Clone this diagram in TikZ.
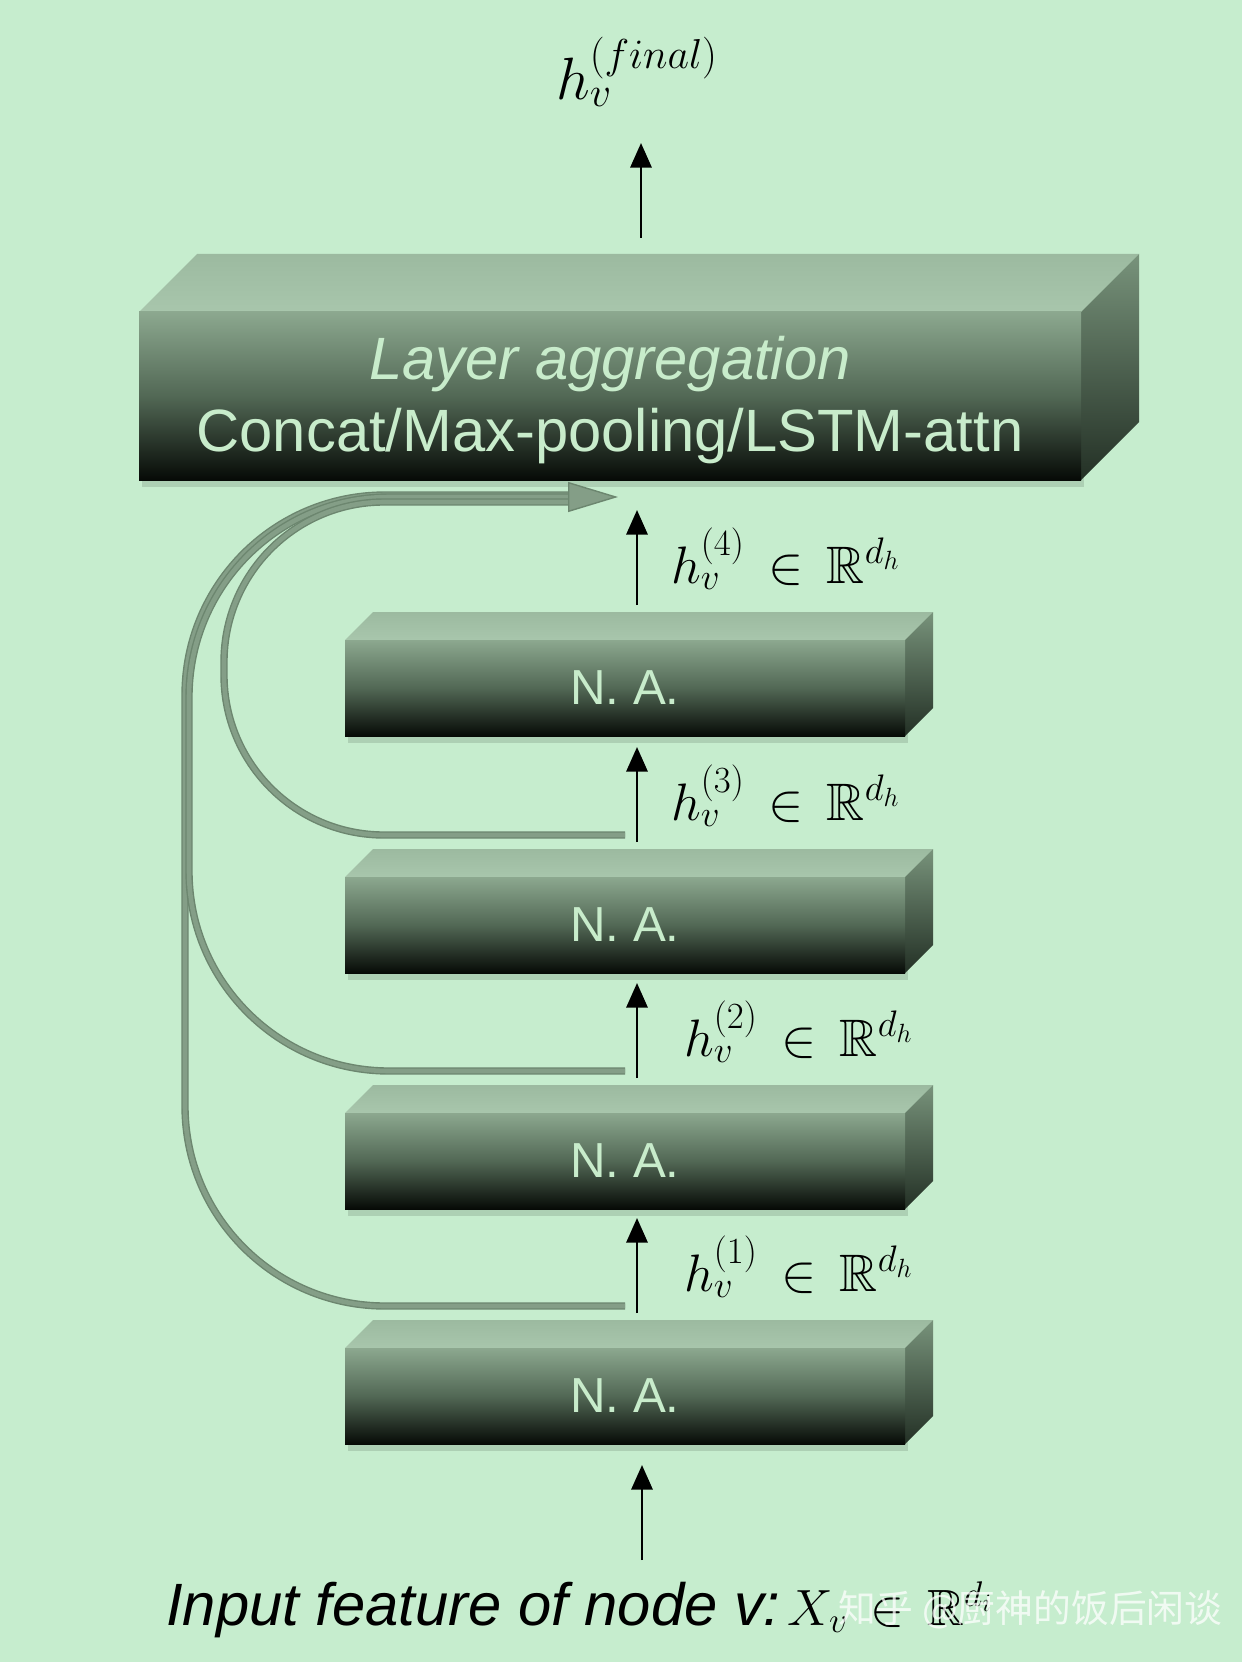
\RequirePackage{fix-cm}
\documentclass[tikz,border=0pt]{standalone}
\usepackage{amsmath, amssymb}
\usepackage{fontspec}
\setsansfont{Liberation Sans}
\newfontfamily\cjkfont{Noto Sans CJK SC}
\usetikzlibrary{arrows.meta, calc}

\definecolor{bgreen}{RGB}{198,237,206}
\definecolor{facetop}{RGB}{168,198,172}
\definecolor{facetopback}{RGB}{156,186,160}
\definecolor{frontup}{RGB}{140,168,143}
\definecolor{frontmid}{RGB}{82,104,85}
\definecolor{frontlow}{RGB}{6,10,6}
\definecolor{sideup}{RGB}{120,147,123}
\definecolor{sidelow}{RGB}{35,48,37}
\definecolor{labelgreen}{RGB}{200,236,203}
\definecolor{skipdark}{RGB}{108,134,111}
\definecolor{skipmid}{RGB}{132,158,135}

\tikzset{
    natext/.style={text=labelgreen, font=\fontsize{28}{34}\selectfont\sffamily},
    aggtext/.style={text=labelgreen, align=center, font=\fontsize{34}{41.4}\selectfont\sffamily},
    flow/.style={-{Triangle[length=14pt,width=12pt]}, line width=1.6pt, black},
    hlabel/.style={anchor=base west, font=\fontsize{30}{36}\selectfont},
    skipline/.style={draw=skipdark, line width=0.8pt, double=skipmid, double distance=2.6pt, rounded corners=4cm},
    skiptip/.style={-{Triangle[length=1.0cm,width=0.6cm,fill=skipmid]}, draw=skipdark, line width=0.8pt},
}

% 3D layer block: name, left x, top y of front face, width, height, depth
\newcommand{\layerbox}[6]{
    \coordinate (#1-nw) at (#2,#3);
    \coordinate (#1-ne) at ($(#1-nw)+(#4,0)$);
    \coordinate (#1-se) at ($(#1-nw)+(#4,#5)$);
    \fill [black, opacity=0.12] ($(#1-nw)+(3,4)$) rectangle ($(#1-se)+(3,7)$);
    \shade [top color=facetopback, bottom color=facetop] (#1-nw) -- ++(#6,-#6) -- ++(#4,0) -- ++(-#6,#6) -- cycle;
    \shade [top color=sideup, bottom color=sidelow] (#1-ne) -- ++(#6,-#6) -- ++(0,#5) -- ++(-#6,#6) -- cycle;
    \shade [top color=frontup, bottom color=frontlow, middle color=frontmid] (#1-nw) rectangle (#1-se);
}

\begin{document}
\begin{tikzpicture}[x=0.02cm, y=-0.02cm]
    \useasboundingbox [fill=bgreen] (0,0) rectangle (1242,1662);

    % layer aggregation
    \layerbox{agg}{139}{312}{942}{168}{58}
    \node [aggtext] (agg) at ($(agg-nw)!0.5!(agg-se)+(0,4)$) {{\itshape Layer aggregation}\\Concat/Max-pooling/LSTM-attn};
    \node [font=\fontsize{34}{40}\selectfont] (final) at (637,72) {$h_v^{(final)}$};
    \coordinate (agg-out) at (641,238);
    \coordinate (final-in) at (641,143);
    \draw [flow] (agg-out) -- (final-in);

    % neighbourhood aggregation layers
    \foreach \i/\y/\lx in {1/1348/678, 2/1113/678, 3/877/665, 4/640/665} {
        \layerbox{na\i}{345}{\y}{560}{96}{28}
        \node [natext] (na\i) at ($(na\i-nw)!0.5!(na\i-se)$) {N. A.};
        \coordinate (h\i-from) at (637,\y-35);
        \coordinate (h\i-to) at (637,\y-130);
        \coordinate (skip\i) at (625,\y-42);
        \node [hlabel] (lab\i) at (\lx,\y-57) {$h_v^{(\i)} \mskip3mu\in\mskip3mu \mathbb{R}^{d_h}$};
    }

    % skip connections into the aggregation
    \coordinate (merge) at (572,497);
    \coordinate (merge-tip) at (618,497);
    \draw [skipline] (skip1) -- ++(-440,0) |- ($(merge)+(0,-2)$);
    \draw [skipline] (skip2) -- ++(-436,0) |- (merge);
    \draw [skipline, rounded corners=3.2cm] (skip3) -- ++(-401,0) |- ($(merge)+(0,5)$);
    \draw [skiptip] (merge) -- (merge-tip);

    \foreach \i in {1,...,4} {
        \draw [flow] (h\i-from) -- (h\i-to);
    }

    % input
    \node [anchor=base west, font=\fontsize{34}{40}\selectfont] (input) at (160,1625)
        {\sffamily\itshape Input feature of node v:\hspace{4pt}{\fontsize{29}{34}\selectfont$X_v \mskip3mu\in\mskip3mu \mathbb{R}^{d_i}$}};
    \coordinate (feat-out) at (642,1560);
    \coordinate (na1-in) at (642,1465);
    \draw [flow] (feat-out) -- (na1-in);

    \node [anchor=base west, text=white, text opacity=0.75, font=\cjkfont\fontsize{21.5}{26}\selectfont] (mark) at (832,1622) {知乎 @厨神的饭后闲谈};
\end{tikzpicture}
\end{document}
